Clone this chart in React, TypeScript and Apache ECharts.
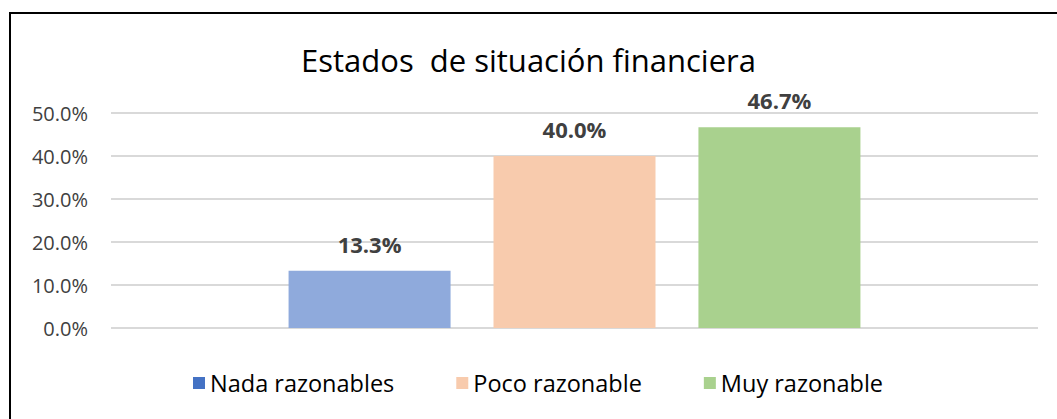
import React, { useEffect, useRef } from "react";
import * as echarts from "echarts";

const categories = ["Estados de situación financiera"];
const seriesNames = ["Nada razonables", "Poco razonable", "Muy razonable"];
const nadaValues = [13.3];
const pocoValues = [40.0];
const muyValues = [46.7];
const barColors = ["#8FAADC", "#F8CBAD", "#A9D18E"];
const legendColors = ["#4472C4", "#F8CBAD", "#A9D18E"];
const titleText = "Estados  de situación financiera";

export default function App() {
  const ref = useRef<HTMLDivElement>(null);
  useEffect(() => {
    document.body.style.margin = "0";
    const chart = echarts.init(ref.current!, null, { renderer: "svg" });
    const font = "Open Sans";
    const values = [nadaValues, pocoValues, muyValues];
    chart.setOption({
      animation: false,
      backgroundColor: "#ffffff",
      textStyle: { fontFamily: font },
      title: {
        text: titleText,
        left: "center",
        top: 39,
        textStyle: { fontFamily: font, fontSize: 31, fontWeight: "normal", color: "#000000" },
      },
      graphic: [
        {
          type: "polyline",
          shape: { points: [[10, 430], [10, 13], [1070, 13]] },
          style: { stroke: "#000000", lineWidth: 2, fill: null },
          silent: true,
        },
      ],
      legend: {
        top: 366,
        left: 188,
        itemWidth: 12,
        itemHeight: 12,
        itemGap: 62,
        icon: "rect",
        textStyle: { fontFamily: font, fontSize: 23.5, color: "#000000" },
        data: seriesNames.map((n, i) => ({ name: n, itemStyle: { color: legendColors[i] } })),
      },
      grid: { left: 111, right: 19, top: 113, bottom: 91, containLabel: false },
      xAxis: {
        type: "category",
        data: categories,
        axisLine: { show: false },
        axisTick: { show: false },
        axisLabel: { show: false },
      },
      yAxis: {
        type: "value",
        min: 0,
        max: 50,
        interval: 10,
        axisLine: { show: false },
        axisTick: { show: false },
        axisLabel: {
          formatter: (v: number) => v.toFixed(1) + "%",
          fontFamily: font,
          fontSize: 20,
          color: "#404040",
          margin: 23,
        },
        splitLine: { lineStyle: { color: "#D9D9D9", width: 2 } },
      },
      series: seriesNames.map((n, i) => ({
        name: n,
        type: "bar",
        data: values[i],
        barWidth: 162,
        barGap: "26.5%",
        itemStyle: { color: barColors[i] },
        label: {
          show: true,
          position: "top",
          distance: 16,
          formatter: (p: any) => p.value.toFixed(1) + "%",
          fontFamily: font,
          fontSize: 22,
          fontWeight: "bold",
          color: "#404040",
        },
      })),
    });
    return () => chart.dispose();
  }, []);
  return <div ref={ref} style={{ width: 1057, height: 419 }} />;
}
